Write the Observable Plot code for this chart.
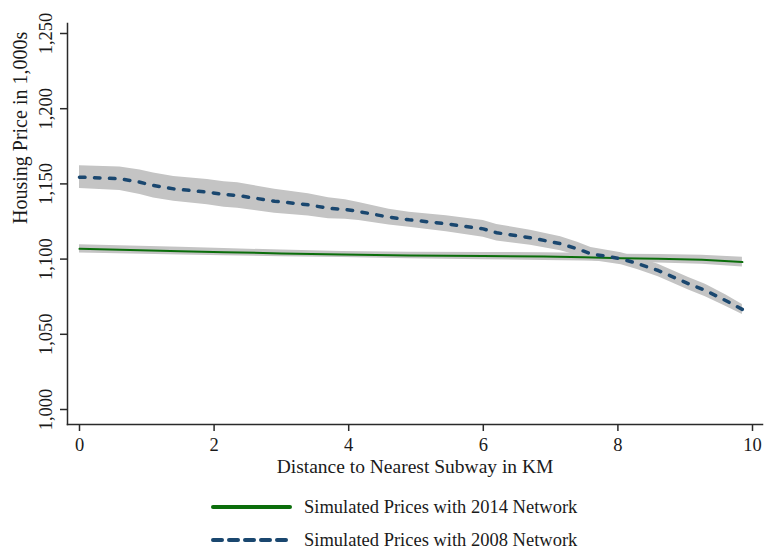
<!DOCTYPE html>
<html><head><meta charset="utf-8">
<script src="https://cdn.jsdelivr.net/npm/d3@7"></script>
<script src="https://cdn.jsdelivr.net/npm/@observablehq/plot@0.6"></script>
<style>
html,body{margin:0;padding:0;background:#fff;overflow:hidden;width:766px;height:548px;}
#chart svg{display:block;}
.legend{position:relative;height:68px;font-family:"Liberation Serif","Times New Roman",serif;font-size:18.5px;color:#1a1a1a;}
.row{position:absolute;left:210px;display:flex;align-items:center;height:26px;white-space:nowrap;}
.row svg{margin-right:10px;display:block;}
</style></head><body>
<div id="chart"></div>
<div class="legend" id="legend"></div>
<script>
// ---- data ----
const xTicks = [0, 2, 4, 6, 8, 10];
const yTicks = [1000, 1050, 1100, 1150, 1200, 1250];
const xTitle = "Distance to Nearest Subway in KM";
const yTitle = "Housing Price in 1,000s";
const seriesNames = ["Simulated Prices with 2014 Network", "Simulated Prices with 2008 Network"];

// 2014 network (green, solid)
const dist2014  = [0, 1.5, 2.15, 3.0, 3.9, 4.9, 6.0, 6.9, 7.5, 8.05, 8.6, 9.25, 9.85];
const price2014 = [1106.8, 1105.3, 1104.6, 1103.8, 1103.1, 1102.4, 1102.0, 1101.7, 1101.3, 1100.6, 1100.2, 1099.5, 1098.0];
const hi2014    = [1109.6, 1107.9, 1107.0, 1106.0, 1105.1, 1104.6, 1104.4, 1104.3, 1103.9, 1103.2, 1103.0, 1102.5, 1101.2];
const lo2014    = [1104.0, 1102.7, 1102.2, 1101.6, 1101.1, 1100.2, 1099.6, 1099.1, 1098.7, 1098.0, 1097.4, 1096.5, 1094.8];

// 2008 network (navy, dashed)
const dist2008  = [0, 0.6, 0.9, 1.1, 1.4, 1.9, 2.15, 2.35, 2.9, 3.4, 3.7, 3.95, 4.15, 4.6, 4.9, 5.45, 6.0, 6.2, 6.7, 7.15, 7.4, 7.6, 8.05, 8.3, 8.6, 9.05, 9.3, 9.6, 9.85];
const price2008 = [1154.5, 1153.4, 1151.1, 1148.9, 1146.7, 1144.5, 1143.0, 1142.3, 1138.5, 1136.1, 1133.8, 1133.0, 1131.6, 1127.9, 1126.1, 1123.5, 1120.1, 1117.5, 1114.2, 1110.2, 1106.8, 1103.5, 1100.2, 1096.9, 1092.4, 1083.6, 1079.1, 1072.5, 1066.5];
const hi2008    = [1162.1, 1161.2, 1159.3, 1157.2, 1155.0, 1152.9, 1151.5, 1150.8, 1146.5, 1143.5, 1140.8, 1139.5, 1137.6, 1133.2, 1131.1, 1128.8, 1125.7, 1123.0, 1119.2, 1114.8, 1111.2, 1107.7, 1104.2, 1100.9, 1096.5, 1087.8, 1083.3, 1076.3, 1069.8];
const lo2008    = [1146.9, 1145.6, 1142.9, 1140.6, 1138.4, 1136.1, 1134.5, 1133.8, 1130.5, 1128.7, 1126.8, 1126.5, 1125.6, 1122.6, 1121.1, 1118.2, 1114.5, 1112.0, 1109.2, 1105.6, 1102.4, 1099.3, 1096.2, 1092.9, 1088.3, 1079.4, 1074.9, 1068.7, 1063.2];

// ---- styles ----
const GREEN = "#0b6e0b";
const NAVY = "#1a476f";
const BAND = "#c4c4c4";
const AXIS = "#2a2a2a";
const SERIF = "'Liberation Serif', 'Times New Roman', serif";

const W = 766, H = 480, ML = 67, MR = 4, MT = 23, MB = 56, TICK = 7;

const t2014 = dist2014.map((d, i) => ({d, p: price2014[i], lo: lo2014[i], hi: hi2014[i]}));
const t2008 = dist2008.map((d, i) => ({d, p: price2008[i], lo: lo2008[i], hi: hi2008[i]}));

const chart = Plot.plot({
  width: W, height: H,
  marginLeft: ML, marginRight: MR, marginTop: MT, marginBottom: MB,
  insetLeft: 12, insetRight: 10, insetTop: 10, insetBottom: 15,
  style: {fontFamily: SERIF, fontSize: "18.5px", color: "#1a1a1a", background: "white", overflow: "visible"},
  x: {domain: [0, 10], label: null},
  y: {domain: [1000, 1250], label: null},
  marks: [
    Plot.areaY(t2014, {x: "d", y1: "lo", y2: "hi", fill: BAND}),
    Plot.areaY(t2008, {x: "d", y1: "lo", y2: "hi", fill: BAND}),
    Plot.line(t2014, {x: "d", y: "p", stroke: GREEN, strokeWidth: 2}),
    Plot.line(t2008, {x: "d", y: "p", stroke: NAVY, strokeWidth: 3.5, strokeDasharray: "5.5,9.5", strokeLinecap: "round"}),
    Plot.frame({anchor: "left", stroke: AXIS, strokeWidth: 1.5}),
    Plot.frame({anchor: "bottom", stroke: AXIS, strokeWidth: 1.5}),
    // outward tick marks just outside the frame
    Plot.tickX(xTicks, {x: d => d, stroke: AXIS, strokeWidth: 1.5, insetTop: H - MT - MB, insetBottom: -TICK}),
    Plot.tickY(yTicks, {y: d => d, stroke: AXIS, strokeWidth: 1.5, insetLeft: -TICK, insetRight: W - ML - MR}),
    Plot.axisX({ticks: xTicks, tickSize: 0, tickPadding: 13, tickFormat: d => String(d)}),
    Plot.axisY({ticks: yTicks, tickSize: 0, tickPadding: 21, rotate: -90, textAnchor: "middle", tickFormat: d3.format(",")}),
    Plot.text([xTitle], {text: d => d, frameAnchor: "bottom", lineAnchor: "middle", dy: 42, fontSize: 19.5}),
    Plot.text([yTitle], {text: d => d, frameAnchor: "left", lineAnchor: "middle", rotate: -90, dx: -47, fontSize: 20})
  ]
});
document.getElementById("chart").append(chart);

// ---- legend below the chart ----
const legend = d3.select("#legend");
const rows = [
  {name: seriesNames[0], color: GREEN, dash: null, top: 14},
  {name: seriesNames[1], color: NAVY, dash: "9,7", top: 47}
];
rows.forEach(r => {
  const row = legend.append("div").attr("class", "row").style("top", r.top + "px");
  const s = row.append("svg").attr("width", 84).attr("height", 10);
  s.append("line").attr("x1", 3).attr("x2", 80).attr("y1", 5).attr("y2", 5)
    .attr("stroke", r.color).attr("stroke-width", 4).attr("stroke-linecap", "round")
    .attr("stroke-dasharray", r.dash);
  row.append("span").text(r.name);
});
</script>
</body></html>
